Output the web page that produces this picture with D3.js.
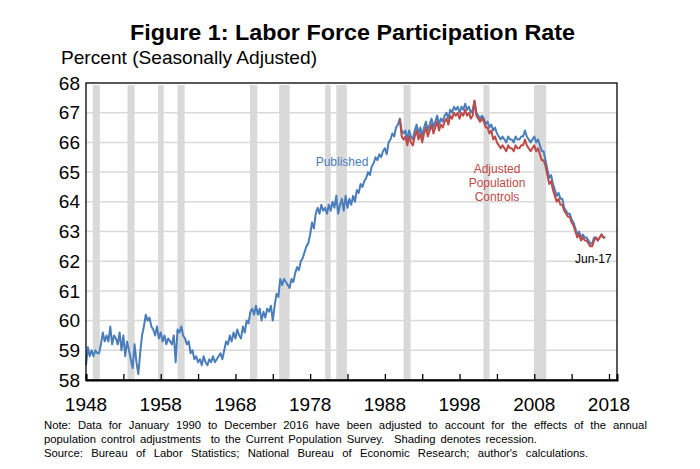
<!DOCTYPE html>
<html><head><meta charset="utf-8">
<script src="https://cdn.jsdelivr.net/npm/d3@7"></script>
<style>
html,body{margin:0;padding:0;background:#fff;}
svg{display:block;font-family:Arial,"Liberation Sans",sans-serif;}
</style></head>
<body><svg id="c" width="700" height="469"></svg>
<script>
// ---------- DATA ----------
const title = "Figure 1: Labor Force Participation Rate";
const yAxisTitle = "Percent (Seasonally Adjusted)";
const xTickLabels = [1948, 1958, 1968, 1978, 1988, 1998, 2008, 2018];
const yTickLabels = [58, 59, 60, 61, 62, 63, 64, 65, 66, 67, 68];
const noteLines = [
  "Note: Data for January 1990 to December 2016 have been adjusted to account for the effects of the annual",
  "population control adjustments  to the Current Population Survey.  Shading denotes recession.",
  "Source: Bureau of Labor Statistics; National Bureau of Economic Research; author's calculations."
];
// recessions (NBER), fractional years
const recessionStart = [1948.9, 1953.55, 1957.65, 1960.25, 1969.95, 1973.85, 1980.0, 1981.5, 1990.5, 2001.2, 2007.95];
const recessionEnd   = [1949.85, 1954.5, 1958.4, 1961.2, 1970.92, 1975.25, 1980.75, 1982.92, 1991.45, 2002.0, 2009.6];
// Published series: quarterly, starting 1948 Q1
const publishedStart = 1948;
const published = [
 58.5,59.1,58.8,59.0, 58.8,59.0,58.9,58.9, 59.2,59.6,59.3,59.5, 59.3,59.8,59.2,59.5,
 59.4,59.2,59.6,59.0, 59.5,58.8,59.3,59.0, 58.7,58.4,59.2,58.6, 58.2,58.9,59.5,59.8,
 60.2,60.0,60.1,59.8, 59.7,59.5,59.8,59.4, 59.6,59.3,59.5,59.2, 59.4,59.3,59.2,59.5,
 58.6,59.7,59.6,59.8, 59.5,59.4,59.2,59.3, 58.9,59.0,58.7,58.8, 58.6,58.7,58.5,58.8,
 58.6,58.5,58.7,58.6, 58.8,58.6,58.7,58.8, 58.9,58.7,59.0,59.3, 59.2,59.5,59.3,59.6,
 59.4,59.7,59.5,59.4, 59.8,59.6,60.0,59.9, 60.3,60.4,60.2,60.5, 60.2,60.4,60.0,60.3,
 60.1,60.4,60.3,60.5, 60.0,60.5,60.9,60.8, 61.4,61.2,61.4,61.3, 61.2,61.1,61.4,61.3,
 61.6,61.8,61.7,62.0, 62.1,62.3,62.5,62.6, 62.9,63.3,63.1,63.6, 63.8,63.6,63.9,63.7,
 63.8,63.6,63.9,63.7, 64.0,63.8,64.2,63.6, 63.9,64.1,63.7,64.2, 63.8,64.1,63.9,64.2,
 64.0,64.4,64.3,64.6, 64.5,64.7,64.8,65.0, 64.9,65.2,65.3,65.5, 65.4,65.6,65.5,65.7,
 65.8,65.6,66.0,66.1, 66.3,66.2,66.5,66.6, 66.8,66.4,66.3,66.4, 66.1,66.4,66.2,66.1,
 66.4,66.6,66.3,66.5, 66.2,66.5,66.7,66.4, 66.6,66.8,66.5,66.7, 66.9,66.6,66.8,66.7,
 66.9,67.0,66.8,67.1, 67.0,67.2,67.1,67.2, 67.0,67.2,67.1,67.3, 67.1,67.2,67.0,67.1,
 67.4,67.0,66.9,66.8, 66.9,66.8,66.6,66.7, 66.5,66.6,66.4,66.5, 66.3,66.2,66.1,66.2,
 66.1,66.0,66.2,66.1, 66.1,66.0,66.2,66.1, 66.1,66.2,66.2,66.4, 66.2,66.1,66.0,66.1,
 66.2,66.0,66.1,65.9, 65.7,65.7,65.4,65.1, 64.8,64.9,64.6,64.4, 64.2,64.3,64.1,64.1,
 63.8,63.7,63.6,63.6, 63.4,63.3,63.1,62.9, 63.0,62.8,62.9,62.8, 62.8,62.7,62.6,62.6,
 62.8,62.8,62.7,62.8, 62.9,62.8,62.8
];
// Adjusted population controls series: quarterly, starting 1990 Q1
const adjustedStart = 1990;
const adjusted = [
 66.8,66.2,66.1,66.2, 65.9,66.2,66.0,65.9, 66.2,66.4,66.1,66.3, 66.0,66.3,66.5,66.2,
 66.4,66.6,66.3,66.5, 66.7,66.4,66.6,66.5, 66.7,66.8,66.6,66.9, 66.8,67.0,66.9,67.0,
 66.8,67.0,66.9,67.1, 66.9,67.0,66.8,66.9, 67.4,66.9,66.8,66.7, 66.8,66.7,66.5,66.5,
 66.3,66.4,66.1,66.2, 66.0,65.9,65.8,65.9, 65.8,65.7,65.9,65.8, 65.8,65.7,65.9,65.8,
 65.8,65.9,65.9,66.1, 65.9,65.8,65.7,65.8, 65.9,65.7,65.8,65.6, 65.4,65.4,65.2,64.9,
 64.6,64.7,64.4,64.2, 64.0,64.1,63.9,63.9, 63.7,63.6,63.5,63.5, 63.3,63.2,63.0,62.8,
 62.9,62.7,62.8,62.7, 62.7,62.6,62.5,62.5, 62.7,62.8,62.7,62.8, 62.9,62.8,62.8
];
const seriesLabels = ["Published", ["Adjusted", "Population", "Controls"], "Jun-17"];

// ---------- CHART ----------
const svg = d3.select("#c");
const plotL = 86, plotR = 617, plotT = 83, plotB = 380;
const x = d3.scaleLinear().domain([1948, 2019.07]).range([plotL, plotR]);
const y = d3.scaleLinear().domain([58, 68]).range([plotB, plotT]);

const pub = published.map((v, i) => ({t: publishedStart + i / 4, v}));
const adj = adjusted.map((v, i) => ({t: adjustedStart + i / 4, v}));

// recession bars
svg.append("g").selectAll("rect").data(recessionStart).join("rect")
  .attr("x", (d) => x(d))
  .attr("width", (d, i) => x(recessionEnd[i]) - x(d))
  .attr("y", y(68) + 2).attr("height", y(58) - y(68) - 2)
  .attr("fill", "#d9d9d9");

// gridlines
svg.append("g").selectAll("line").data(yTickLabels.filter(v => v > 58 && v < 68)).join("line")
  .attr("x1", plotL).attr("x2", plotR)
  .attr("y1", d => y(d)).attr("y2", d => y(d))
  .attr("stroke", "#d9d9d9").attr("stroke-width", 1.5);

// lines
const line = d3.line().x(d => x(d.t)).y(d => y(d.v));
svg.append("path").datum(pub).attr("d", line)
  .attr("fill", "none").attr("stroke", "#4a7ebb").attr("stroke-width", 2).attr("stroke-linejoin", "round");
svg.append("path").datum(adj).attr("d", line)
  .attr("fill", "none").attr("stroke", "#be4b48").attr("stroke-width", 2).attr("stroke-linejoin", "round");

// frame
svg.append("rect").attr("x", plotL).attr("y", plotT).attr("width", plotR - plotL).attr("height", plotB - plotT)
  .attr("fill", "none").attr("stroke", "#000").attr("stroke-width", 1.3);

// x axis with inward ticks every 5 years
const xAxis = d3.axisBottom(x).tickValues(d3.range(1948, 2019, 5)).tickSize(-6).tickFormat("");
const gx = svg.append("g").attr("transform", `translate(0,${plotB})`).call(xAxis);
gx.select(".domain").attr("stroke", "#000").attr("stroke-width", 2);
gx.selectAll(".tick line").attr("stroke", "#000").attr("stroke-width", 1.3);

svg.append("g").selectAll("text").data(xTickLabels).join("text")
  .attr("x", d => x(d)).attr("y", 411).attr("text-anchor", "middle")
  .attr("font-size", 19).attr("fill", "#000").text(d => d);

svg.append("g").selectAll("text").data(yTickLabels).join("text")
  .attr("x", 80).attr("y", d => y(d)).attr("dy", "0.35em").attr("text-anchor", "end")
  .attr("font-size", 19).attr("fill", "#000").text(d => d);

// titles
svg.append("text").attr("x", 130).attr("y", 40).attr("font-size", 22.5).attr("font-weight", "bold")
  .attr("textLength", 445).attr("lengthAdjust", "spacingAndGlyphs").text(title);
svg.append("text").attr("x", 61).attr("y", 64).attr("font-size", 18.5)
  .attr("textLength", 256).attr("lengthAdjust", "spacingAndGlyphs").text(yAxisTitle);

// series labels
svg.append("text").attr("x", 342).attr("y", 166).attr("text-anchor", "middle")
  .attr("font-size", 12).attr("fill", "#4a7ebb").text(seriesLabels[0]);
svg.append("g").selectAll("text").data(seriesLabels[1]).join("text")
  .attr("x", 497).attr("y", (d, i) => 173 + i * 14).attr("text-anchor", "middle")
  .attr("font-size", 12).attr("fill", "#be4b48").text(d => d);
svg.append("text").attr("x", 575).attr("y", 263)
  .attr("font-size", 12).attr("fill", "#000").text(seriesLabels[2]);

// notes, spread to the reference line widths
const noteWidths = [603, 493, 544];
noteLines.forEach((s, i) => {
  const t = svg.append("text").attr("x", 44).attr("y", 429 + i * 14)
    .attr("font-size", 11.3).attr("fill", "#000")
    .style("white-space", "pre").text(s);
  const w = t.node().getComputedTextLength();
  const spaces = (s.match(/ /g) || []).length;
  const ws = (noteWidths[i] - w) / spaces;
  t.attr("word-spacing", ws.toFixed(2));
});
</script></body></html>
